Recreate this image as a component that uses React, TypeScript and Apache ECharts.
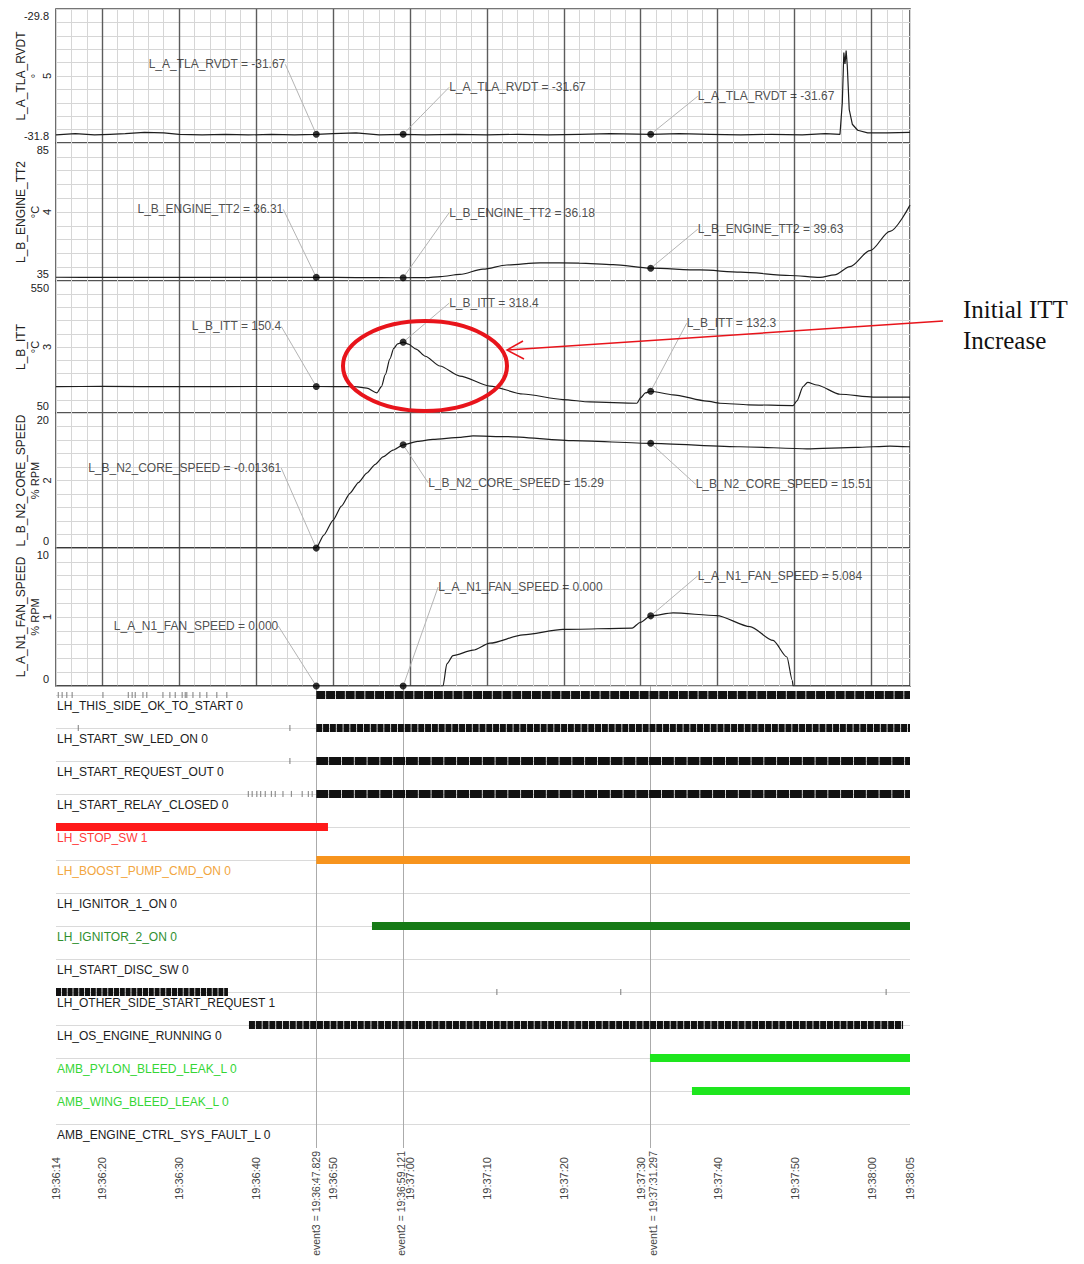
import React, { useEffect, useRef } from 'react';
import * as echarts from 'echarts';

// ---------- data ----------
const timeLabelValues = [14, 20, 30, 40, 50, 60, 70, 80, 90, 100, 110, 120, 125];
const majorGridTimes = [20, 30, 40, 50, 60, 70, 80, 90, 100, 110, 120];
const eventNames = ['event3', 'event2', 'event1'];
const eventTimes = [47.829, 59.121, 91.297];

const tlaData = [
  [14, -31.68], [16.5, -31.66], [19, -31.68], [21, -31.67], [23, -31.66], [25.5, -31.64], [28, -31.65], [30, -31.67],
  [33, -31.68], [36, -31.67], [39, -31.68], [42, -31.67], [45, -31.68], [47.829, -31.67], [50, -31.66], [53, -31.65],
  [56, -31.68], [59.121, -31.67], [62, -31.68], [66, -31.67], [70, -31.68], [74, -31.67], [78, -31.68], [82, -31.67],
  [86, -31.66], [91.297, -31.67], [95, -31.66], [99, -31.67], [103, -31.68], [107, -31.67], [111, -31.68], [114, -31.66],
  [115.9, -31.67], [116.2, -31.2], [116.4, -30.45], [116.55, -30.62], [116.7, -30.42], [116.85, -30.65], [117.1, -31.3],
  [117.5, -31.52], [118.2, -31.61], [119.5, -31.65], [122, -31.65], [125, -31.64],
];
const tlaEventValues = [-31.67, -31.67, -31.67];

const tt2Data = [
  [14, 36.35], [20, 36.33], [26, 36.34], [32, 36.32], [40, 36.32], [47.829, 36.31], [53, 36.25], [59.121, 36.18],
  [62, 36.22], [64, 36.6], [66.5, 37.4], [69.5, 39.3], [72.6, 40.8], [76.9, 41.6], [82, 41.5], [86.4, 40.9],
  [91.297, 39.63], [97.7, 39.0], [103, 38.2], [109.4, 37.0], [113.3, 36.3], [115.2, 37.2], [117.2, 40.2],
  [119.8, 46.0], [122.4, 53.0], [125, 62.5],
];
const tt2EventValues = [36.31, 36.18, 39.63];

const ittData = [
  [14, 150], [20, 150.5], [30, 150], [40, 150.3], [47.829, 150.4], [52.9, 150], [54.4, 144], [55.7, 126], [56.3, 150],
  [56.8, 195], [57.4, 255], [57.9, 295], [58.4, 312], [59.121, 318.4], [59.8, 311], [60.8, 292], [62, 265], [63.9, 228],
  [66.5, 190], [70.4, 152], [74.7, 122], [79.9, 101], [83.4, 92], [89.5, 87], [90.0, 108], [90.6, 126], [91.297, 132.3],
  [94.2, 119], [98.6, 95], [100.3, 87], [104, 81], [109.8, 78], [110.3, 96], [111.1, 150], [111.7, 166], [112.9, 156],
  [115.9, 121], [120.2, 110], [125, 110],
];
const ittEventValues = [150.4, 318.4, 132.3];

const n2Data = [
  [14, 0], [20, 0], [30, 0], [40, 0], [47.829, 0], [48.8, 1.9], [50, 4.1], [51.1, 6.2], [52.2, 8.1], [53.3, 9.7],
  [54.4, 11.1], [55.5, 12.4], [56.5, 13.5], [57.8, 14.5], [59.121, 15.29], [61, 15.8], [63, 16.1], [66.5, 16.4],
  [68.2, 16.6], [72.6, 16.5], [81.2, 15.9], [91.297, 15.51], [102.9, 15.0], [111.6, 14.7], [118, 14.9], [122.4, 15.1],
  [125, 15.0],
];
const n2EventValues = [-0.01361, 15.29, 15.51];

const n1Data = [
  [14, 0], [30, 0], [47.829, 0], [59.121, 0], [64.3, 0], [64.8, 1.6], [65.6, 2.2], [68.2, 2.6], [70.4, 3.1], [74.7, 3.7],
  [79.9, 4.1], [88.9, 4.2], [89.9, 4.6], [91.297, 5.084], [94.2, 5.3], [99.9, 5.1], [104.2, 4.3], [107.2, 3.3],
  [109.0, 2.1], [109.7, 0.4], [109.8, 0], [115, 0], [125, 0],
];
const n1EventValues = [0, 0, 5.084];

const panelNames = ['L_A_TLA_RVDT', 'L_B_ENGINE_TT2', 'L_B_ITT', 'L_B_N2_CORE_SPEED', 'L_A_N1_FAN_SPEED'];
const panelUnits = ['°', '°C', '°C', '% RPM', '% RPM'];
const panelOrdinals = ['5', '4', '3', '2', '1'];
const panelMins = [-31.8, 35, 50, 0, 0];
const panelMaxs = [-29.8, 85, 550, 20, 10];

const signalNames = [
  'LH_THIS_SIDE_OK_TO_START', 'LH_START_SW_LED_ON', 'LH_START_REQUEST_OUT', 'LH_START_RELAY_CLOSED', 'LH_STOP_SW',
  'LH_BOOST_PUMP_CMD_ON', 'LH_IGNITOR_1_ON', 'LH_IGNITOR_2_ON', 'LH_START_DISC_SW', 'LH_OTHER_SIDE_START_REQUEST',
  'LH_OS_ENGINE_RUNNING', 'AMB_PYLON_BLEED_LEAK_L', 'AMB_WING_BLEED_LEAK_L', 'AMB_ENGINE_CTRL_SYS_FAULT_L',
];
const signalStates = [0, 0, 0, 0, 1, 0, 0, 0, 0, 1, 0, 0, 0, 0];
const signalOnStart = [47.829, 47.829, 47.829, 47.829, 14, 47.829, null, 55.07, null, 14, 39.08, 91.2, 96.66, null];
const signalOnEnd = [125, 125, 125, 125, 49.35, 125, null, 125, null, 36.35, 124.1, 125, 125, null];
const signalBlips = [
  [14.3, 14.8, 15.4, 16.1, 20.1, 23.4, 23.9, 24.3, 25.3, 25.8, 27.9, 28.8, 29.5, 30.4, 30.8, 31.0, 31.8, 32.7, 33.6, 34.9, 36.2],
  [16.9, 44.4],
  [44.4],
  [39.0, 39.5, 40.1, 40.6, 41.2, 42.0, 42.5, 43.5, 44.6, 46.0, 46.8, 47.3],
  [], [], [], [], [],
  [71.3, 87.4, 121.9],
  [], [], [], [],
];

// ---------- styles / layout ----------
const FONT = 'Liberation Sans, Arial, sans-serif';
const panelTops = [9, 143, 281, 413, 548];
const panelHeights = [134, 138, 132, 135, 138];
const panelIntervals = [0.2, 5, 50, 2, 1];
const panelSmooth = [false, 0.3, 0.25, 0.2, 0.25];
const GRID_LEFT = 56;
const GRID_RIGHT = 174;
const DIG_TOP = 686;
const DIG_HEIGHT = 462;
const ROW_BAR = 0.27;
const ROW_LABEL = 0.6;
// label offsets [dx, dy] relative to event dot
const labelOffsets = [
  [[-31, -70], [46, -47], [47, -38]],
  [[-33, -68], [46, -65], [47, -39]],
  [[-35, -60], [46, -39], [36, -68]],
  [[-35, -80], [25, 38], [45, 41]],
  [[-38, -60], [35, -99], [47, -40]],
];
// per-event label nudge style (rotated text: padding-bottom shifts left, padding-top shifts right)
const eventLabelStyle = ['e0', 'eL', 'eR'];
const signalBarColors = ['#111', '#111', '#111', '#111', '#ff1a1a', '#f7941d', '#111', '#167a16', '#111', '#111', '#111', '#1ee61e', '#1ee61e', '#111'];
const signalBarDash: any[] = [[9, 0.8], [6, 0.8], [12, 0.8], [12, 0.8], 'solid', 'solid', 'solid', 'solid', 'solid', [5, 0.8], [6, 0.8], 'solid', 'solid', 'solid'];
const signalLabelStyle = ['blk', 'blk', 'blk', 'blk', 'red', 'org', 'blk', 'dgr', 'blk', 'blk', 'blk', 'lgr', 'lgr', 'blk'];

const panelData = [tlaData, tt2Data, ittData, n2Data, n1Data];
const panelEvents = [tlaEventValues, tt2EventValues, ittEventValues, n2EventValues, n1EventValues];

function fmtClock(t: number, dec = 0) {
  const tot = 36 * 60 + t;
  const mm = Math.floor(tot / 60 + 1e-9);
  const ss = tot - mm * 60;
  const s = dec ? ss.toFixed(dec).padStart(dec + 3, '0') : String(Math.round(ss)).padStart(2, '0');
  return `19:${mm}:${s}`;
}

function buildOption() {
  const grid: any[] = [];
  const xAxis: any[] = [];
  const yAxis: any[] = [];
  const series: any[] = [];

  panelNames.forEach((name, i) => {
    grid.push({
      left: GRID_LEFT, right: GRID_RIGHT, top: panelTops[i], height: panelHeights[i],
      containLabel: false, outerBoundsMode: 'none',
      show: true, borderColor: '#4a4a4a', borderWidth: 1.6, backgroundColor: 'transparent',
    });
    xAxis.push({
      type: 'value', gridIndex: i, min: 14, max: 125, interval: 2,
      axisLine: { show: false }, axisTick: { show: false }, axisLabel: { show: false },
      splitLine: { show: true, lineStyle: { color: '#d6d6d6', width: 1 } },
    });
    const mn = panelMins[i];
    const mx = panelMaxs[i];
    yAxis.push({
      type: 'value', gridIndex: i, min: mn, max: mx, interval: panelIntervals[i],
      axisLine: { show: false }, axisTick: { show: false },
      splitLine: { show: true, lineStyle: { color: '#d6d6d6', width: 1 } },
      axisLabel: {
        customValues: [mn, mx],
        margin: 7,
        formatter: (v: number) => (Math.abs(v - mx) < 1e-9 ? `{t|${v}}` : `{b|${v}}`),
        rich: {
          t: { padding: [14, 0, 0, 0], fontSize: 11, color: '#222', fontFamily: FONT },
          b: { padding: [0, 0, 14, 0], fontSize: 11, color: '#222', fontFamily: FONT },
        },
      },
      name: `{a|${name}}\n{u|${panelUnits[i]}}\n{m|${panelOrdinals[i]}}`,
      nameLocation: 'middle', nameRotate: 90, nameGap: 3, nameMoveOverlap: false,
      nameTextStyle: {
        rich: {
          a: { fontSize: 12, lineHeight: 15, color: '#222', fontFamily: FONT },
          u: { fontSize: 11, lineHeight: 13, color: '#222', fontFamily: FONT },
          m: { fontSize: 11, lineHeight: 12, color: '#222', fontFamily: FONT },
        },
      },
    });
    series.push({
      type: 'line', name, xAxisIndex: i, yAxisIndex: i, data: panelData[i],
      symbol: 'none', showSymbol: false, smooth: panelSmooth[i], smoothMonotone: 'x',
      lineStyle: { color: '#1e1e1e', width: 1.2 }, z: 8, silent: true,
      markLine: {
        silent: true, symbol: ['none', 'none'], label: { show: false },
        lineStyle: { color: '#5c5c5c', width: 1.4, type: 'solid' },
        data: majorGridTimes.map((t) => ({ xAxis: t })),
      },
    });
    const offs = labelOffsets[i];
    series.push({
      type: 'scatter', name, xAxisIndex: i, yAxisIndex: i, clip: false, z: 9,
      data: eventTimes.map((t, k) => [t, panelEvents[i][k]]),
      symbolSize: 7, itemStyle: { color: '#000' },
      label: {
        show: true, fontSize: 12, color: '#222', fontFamily: FONT,
        formatter: (p: any) => `${name} = ${Number(p.value[1]).toPrecision(4)}`,
      },
      labelLine: { show: true, lineStyle: { color: '#b4b4b4', width: 1 } },
      labelLayout: (p: any) => {
        const r = p.rect;
        const cx = r.x + r.width / 2;
        const cy = r.y + r.height / 2;
        const o = offs[p.dataIndex];
        return { x: cx + o[0], y: cy + o[1], align: o[0] < 0 ? 'right' : 'left', verticalAlign: 'middle' };
      },
    });
  });

  // digital grid
  const di = panelNames.length;
  grid.push({
    left: GRID_LEFT, right: GRID_RIGHT, top: DIG_TOP, height: DIG_HEIGHT, show: false,
    containLabel: false, outerBoundsMode: 'none',
  });
  xAxis.push({
    type: 'value', gridIndex: di, min: 14, max: 125, position: 'bottom',
    axisLine: { show: false }, axisTick: { show: false }, splitLine: { show: false },
    axisLabel: {
      customValues: timeLabelValues, rotate: 90, margin: 9, fontSize: 11, color: '#444', fontFamily: FONT,
      formatter: (v: number) => fmtClock(v),
    },
  });
  xAxis.push({
    type: 'value', gridIndex: di, min: 14, max: 125, position: 'bottom', offset: 0,
    axisLine: { show: false }, axisTick: { show: false }, splitLine: { show: false },
    axisLabel: {
      customValues: eventTimes, rotate: 90, margin: 3, color: '#444',
      formatter: (v: number) => {
        const k = eventTimes.findIndex((t) => Math.abs(t - v) < 1e-6);
        return k < 0 ? '' : `{${eventLabelStyle[k]}|${eventNames[k]} = ${fmtClock(v, 3)}}`;
      },
      rich: {
        e0: { fontSize: 10.5, fontFamily: FONT, color: '#444' },
        eL: { fontSize: 10.5, fontFamily: FONT, color: '#444', padding: [0, 0, 5, 0] },
        eR: { fontSize: 10.5, fontFamily: FONT, color: '#444', padding: [5, 0, 0, 0] },
      },
    },
  });
  yAxis.push({
    type: 'value', gridIndex: di, min: 0, max: signalNames.length, inverse: true,
    axisLine: { show: false }, axisTick: { show: false }, splitLine: { show: false },
    axisLabel: {
      inside: true, margin: 1,
      customValues: signalNames.map((_, i) => i + ROW_LABEL),
      formatter: (v: number) => {
        const k = Math.round(v - ROW_LABEL);
        return `{${signalLabelStyle[k]}|${signalNames[k]} ${signalStates[k]}}`;
      },
      rich: {
        blk: { color: '#1c1c1c', fontSize: 12, fontFamily: FONT },
        red: { color: '#ff3b3b', fontSize: 12, fontFamily: FONT },
        org: { color: '#f2a640', fontSize: 12, fontFamily: FONT },
        dgr: { color: '#2f8f2f', fontSize: 12, fontFamily: FONT },
        lgr: { color: '#35d635', fontSize: 12, fontFamily: FONT },
      },
    },
  });
  const dx = xAxis.length - 2;
  series.push({
    type: 'line', xAxisIndex: dx, yAxisIndex: di, data: [[14, ROW_BAR]], symbol: 'none', silent: true, z: 1,
    lineStyle: { width: 0, opacity: 0 },
    markLine: {
      silent: true, symbol: ['none', 'none'], label: { show: false }, z: 1,
      data: [
        ...signalNames.map((_, i) => ({ yAxis: i + ROW_BAR, lineStyle: { color: '#dadada', width: 1, type: 'solid' } })),
        ...eventTimes.map((t) => ({ xAxis: t, lineStyle: { color: '#ababab', width: 1, type: 'solid' } })),
      ],
    },
  });
  signalNames.forEach((sn, i) => {
    const s = signalOnStart[i];
    const e = signalOnEnd[i];
    if (s !== null && e !== null) {
      series.push({
        type: 'line', name: sn, xAxisIndex: dx, yAxisIndex: di, symbol: 'none', silent: true, z: 10,
        data: [[s, i + ROW_BAR], [e, i + ROW_BAR]],
        lineStyle: { color: signalBarColors[i], width: 8, type: signalBarDash[i], cap: 'butt' },
      });
    }
  });
  series.push({
    type: 'scatter', xAxisIndex: dx, yAxisIndex: di, silent: true, z: 9,
    symbol: 'rect', symbolSize: [1.2, 6], itemStyle: { color: '#777' },
    data: signalBlips.flatMap((arr, i) => arr.map((t) => [t, i + ROW_BAR])),
  });

  return {
    animation: false,
    backgroundColor: '#fff',
    textStyle: { fontFamily: FONT },
    grid, xAxis, yAxis, series,
    graphic: [
      {
        type: 'ellipse', z: 100, silent: true,
        shape: { cx: 425, cy: 366, rx: 82, ry: 45 },
        style: { fill: 'none', stroke: '#e8141b', lineWidth: 4 },
      },
      {
        type: 'line', z: 100, silent: true,
        shape: { x1: 943, y1: 321, x2: 507, y2: 350 },
        style: { stroke: '#e8141b', lineWidth: 1.5 },
      },
      {
        type: 'polyline', z: 100, silent: true,
        shape: { points: [[523, 341], [507, 350], [524, 359]] },
        style: { stroke: '#e8141b', lineWidth: 1.5, fill: 'none' },
      },
      {
        type: 'text', z: 100, silent: true, x: 963, y: 294,
        style: {
          text: 'Initial ITT\nIncrease', fill: '#111', fontSize: 25, lineHeight: 31,
          fontFamily: 'Liberation Serif, Times New Roman, serif', textVerticalAlign: 'top',
        },
      },
    ],
  };
}

export default function App() {
  const ref = useRef<HTMLDivElement>(null);
  useEffect(() => {
    if (!ref.current) return;
    const chart = echarts.init(ref.current, null, { renderer: 'svg' });
    chart.setOption(buildOption() as any);
    return () => chart.dispose();
  }, []);
  return (
    <div
      ref={ref}
      style={{ position: 'fixed', left: 0, top: 0, width: 1084, height: 1264, background: '#fff' }}
    />
  );
}
